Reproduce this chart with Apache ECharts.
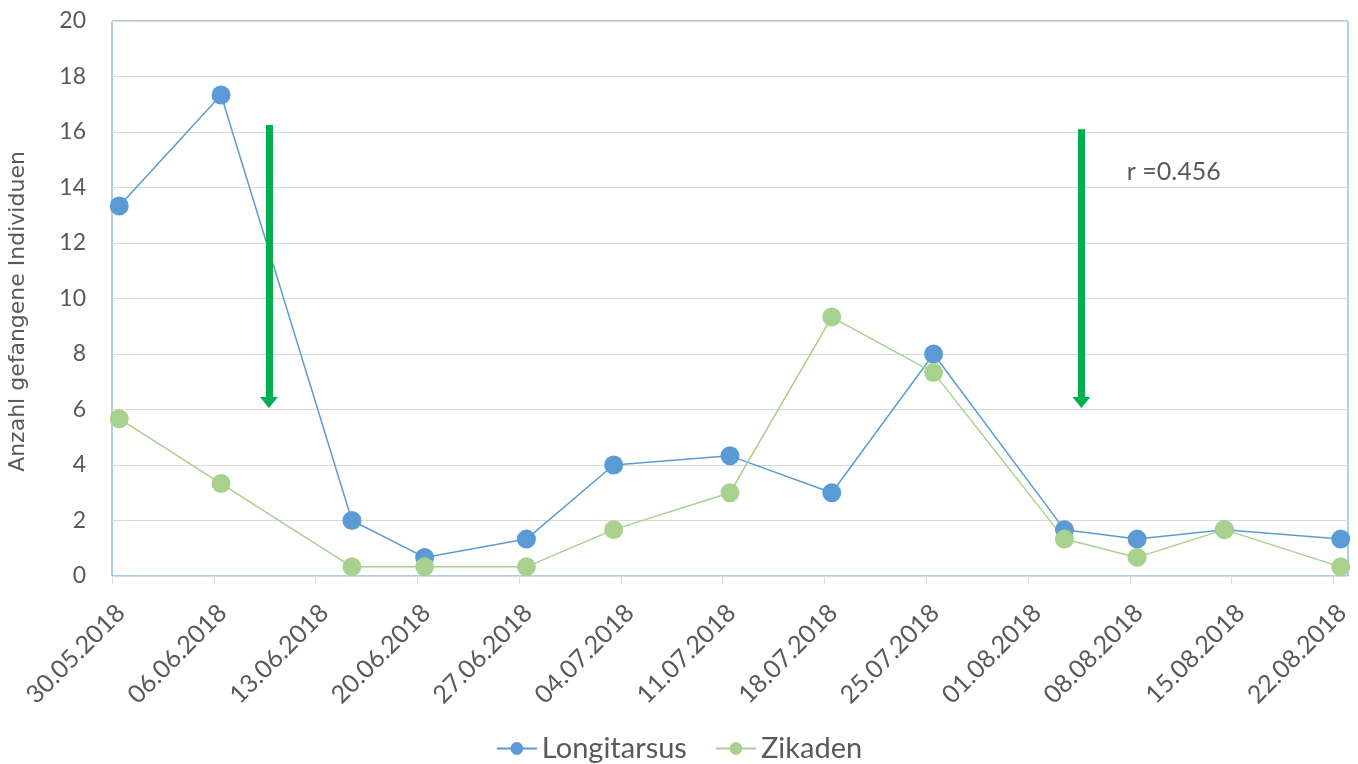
<!DOCTYPE html>
<html>
<head>
<meta charset="utf-8">
<title>Longitarsus und Zikaden 2018</title>
<script src="https://cdn.jsdelivr.net/npm/echarts@6/dist/echarts.min.js"></script>
<style>
  html, body { margin: 0; padding: 0; background: #fff; }
  #main { width: 1358px; height: 764px; }
</style>
</head>
<body>
<div id="main"></div>
<script>
// Fangtermine und Mittelwerte pro Termin
const sampleDates = ['30.05.2018', '06.06.2018', '15.06.2018', '20.06.2018', '27.06.2018', '03.07.2018',
  '11.07.2018', '18.07.2018', '25.07.2018', '03.08.2018', '08.08.2018', '14.08.2018', '22.08.2018'];
const longitarsus = [13.33, 17.33, 2.0, 0.67, 1.33, 4.0, 4.33, 3.0, 8.0, 1.67, 1.33, 1.67, 1.33];
const zikaden = [5.67, 3.33, 0.33, 0.33, 0.33, 1.67, 3.0, 9.33, 7.33, 1.33, 0.67, 1.67, 0.33];

// Achsen
const tickDates = ['30.05.2018', '06.06.2018', '13.06.2018', '20.06.2018', '27.06.2018', '04.07.2018',
  '11.07.2018', '18.07.2018', '25.07.2018', '01.08.2018', '08.08.2018', '15.08.2018', '22.08.2018'];
const yTicks = [0, 2, 4, 6, 8, 10, 12, 14, 16, 18, 20];

// Annotationen (Pfeile + Korrelation)
const arrowDates = ['09.06.2018 19:00', '04.08.2018 16:00'];
const arrowFrom = [16.25, 16.1];
const arrowTo = [6.05, 6.05];
const corrText = 'r =0.456';
const corrDate = '07.08.2018 18:00';
const corrValue = 14.55;

const DAY = 864e5;

function toTime(s) {
  const parts = s.split(' ');
  const [dd, mm, yy] = parts[0].split('.').map(Number);
  const hh = parts[1] ? Number(parts[1].split(':')[0]) : 0;
  return Date.UTC(yy, mm - 1, dd, hh);
}

function fmtDate(v) {
  const d = new Date(v);
  const p = n => (n < 10 ? '0' : '') + n;
  return p(d.getUTCDate()) + '.' + p(d.getUTCMonth() + 1) + '.' + d.getUTCFullYear();
}

// Excel-Datumsachse: Punkte sitzen in der Tagesmitte
const pairs = vals => sampleDates.map((d, i) => [toTime(d) + DAY / 2, vals[i]]);

const textColor = '#595959';
const blue = '#5b9bd5';
const green = '#a9d18e';
const arrowGreen = '#00b050';
const headLen = 0.4; // Pfeilspitze in y-Einheiten

const chart = echarts.init(document.getElementById('main'), null, {renderer: 'canvas'});

const option = {
  animation: false,
  textStyle: {fontFamily: 'Lato', color: textColor},
  grid: {
    left: 112, right: 10, top: 21, bottom: 188,
    outerBoundsMode: 'none',
    containLabel: false,
    show: true, borderColor: blue, borderWidth: 1
  },
  legend: {
    data: ['Longitarsus', 'Zikaden'],
    top: 729,
    left: 'center',
    itemWidth: 40,
    itemHeight: 16,
    itemGap: 28,
    textStyle: {fontSize: 29, color: textColor, fontFamily: 'Lato'}
  },
  xAxis: {
    type: 'value',
    min: toTime(tickDates[0]),
    max: toTime(tickDates[tickDates.length - 1]) + DAY,
    interval: 7 * DAY,
    axisLine: {show: true, lineStyle: {color: '#d9d9d9', width: 1}},
    axisTick: {
      show: true, length: 8, lineStyle: {color: '#d9d9d9'},
      customValues: tickDates.map(toTime)
    },
    splitLine: {show: false},
    axisLabel: {
      customValues: tickDates.map(toTime),
      rotate: 45,
      margin: 24,
      align: 'right',
      verticalAlign: 'top',
      fontSize: 25,
      color: textColor,
      formatter: fmtDate
    }
  },
  yAxis: {
    type: 'value',
    min: yTicks[0],
    max: yTicks[yTicks.length - 1],
    interval: yTicks[1] - yTicks[0],
    name: 'Anzahl gefangene Individuen',
    nameLocation: 'middle',
    nameGap: 83,
    nameTextStyle: {fontFamily: 'DejaVu Sans', fontSize: 22, color: textColor, padding: [0, 26, 0, 0]},
    axisLine: {show: false},
    axisTick: {show: false},
    splitLine: {lineStyle: {color: '#d9d9d9', width: 1}},
    axisLabel: {fontSize: 23, color: textColor, margin: 26}
  },
  series: [
    {
      name: 'Longitarsus',
      type: 'line',
      data: pairs(longitarsus),
      symbol: 'circle',
      symbolSize: 19,
      color: blue,
      itemStyle: {color: blue},
      lineStyle: {color: blue, width: 1.5}
    },
    {
      name: 'Zikaden',
      type: 'line',
      data: pairs(zikaden),
      symbol: 'circle',
      symbolSize: 19,
      color: green,
      itemStyle: {color: green},
      lineStyle: {color: green, width: 1.5}
    },
    {
      name: 'Annotationen',
      type: 'line',
      data: [],
      z: 5,
      markLine: {
        silent: true,
        animation: false,
        symbol: ['none', 'none'],
        label: {show: false},
        lineStyle: {color: arrowGreen, width: 7, type: 'solid'},
        data: arrowDates.map((d, i) => [
          {coord: [toTime(d), arrowFrom[i]]},
          {coord: [toTime(d), arrowTo[i] + headLen]}
        ])
      },
      markPoint: {
        silent: true,
        animation: false,
        data: arrowDates.map((d, i) => ({
          coord: [toTime(d), arrowTo[i] + headLen / 2],
          symbol: 'triangle',
          symbolSize: [18, 11],
          symbolRotate: 180,
          itemStyle: {color: arrowGreen},
          label: {show: false}
        })).concat([{
          coord: [toTime(corrDate), corrValue],
          symbol: 'circle',
          symbolSize: 1,
          itemStyle: {color: 'rgba(0,0,0,0)'},
          label: {
            show: true, position: 'right', distance: 0,
            formatter: corrText, fontSize: 25, color: textColor, fontFamily: 'Lato'
          }
        }])
      }
    }
  ]
};

chart.setOption(option);
</script>
</body>
</html>
